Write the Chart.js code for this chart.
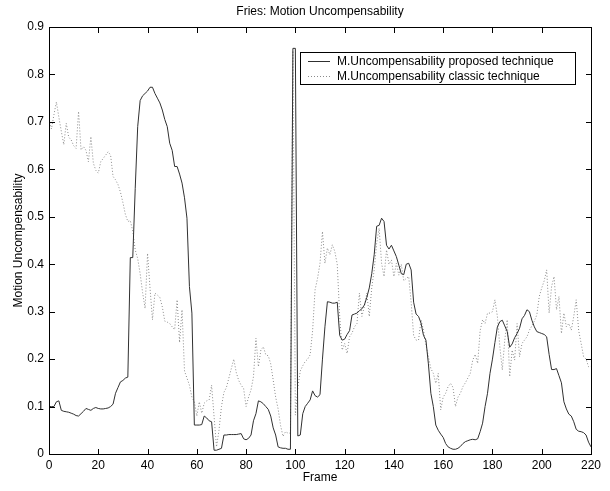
<!DOCTYPE html>
<html>
<head>
<meta charset="utf-8">
<title>Fries: Motion Uncompensability</title>
<script src="https://cdn.jsdelivr.net/npm/chart.js@4.4.1/dist/chart.umd.min.js"></script>
<style>
    html, body { margin: 0; padding: 0; background: #fff; }
    #wrap { width: 610px; height: 491px; position: relative; }
</style>
</head>
<body>
<div id="wrap"><canvas id="motionChart"></canvas></div>
<script>
// per-frame values, frames 0..220
var proposed = [
    0.100, 0.100, 0.100, 0.110, 0.112, 0.092, 0.090, 0.089, 0.088, 0.086,
    0.084, 0.081, 0.080, 0.085, 0.090, 0.096, 0.094, 0.092, 0.096, 0.098,
    0.096, 0.095, 0.095, 0.096, 0.097, 0.100, 0.105, 0.128, 0.140, 0.152,
    0.155, 0.160, 0.162, 0.414, 0.414, 0.560, 0.690, 0.745, 0.755, 0.760,
    0.765, 0.773, 0.773, 0.760, 0.750, 0.740, 0.725, 0.705, 0.690, 0.655,
    0.640, 0.606, 0.606, 0.590, 0.571, 0.540, 0.497, 0.353, 0.297, 0.061,
    0.061, 0.061, 0.062, 0.080, 0.076, 0.070, 0.068, 0.008, 0.008, 0.010,
    0.012, 0.040, 0.040, 0.041, 0.041, 0.041, 0.041, 0.042, 0.043, 0.032,
    0.030, 0.033, 0.040, 0.070, 0.085, 0.112, 0.110, 0.106, 0.100, 0.094,
    0.080, 0.055, 0.040, 0.015, 0.013, 0.012, 0.012, 0.010, 0.010, 0.855,
    0.855, 0.038, 0.040, 0.085, 0.100, 0.107, 0.114, 0.133, 0.123, 0.120,
    0.125, 0.200, 0.268, 0.321, 0.320, 0.318, 0.318, 0.320, 0.250, 0.240,
    0.242, 0.252, 0.260, 0.293, 0.295, 0.297, 0.302, 0.306, 0.314, 0.330,
    0.350, 0.380, 0.420, 0.480, 0.482, 0.497, 0.490, 0.440, 0.432, 0.440,
    0.428, 0.416, 0.398, 0.380, 0.378, 0.400, 0.402, 0.388, 0.320, 0.295,
    0.290, 0.276, 0.250, 0.240, 0.190, 0.128, 0.100, 0.061, 0.050, 0.042,
    0.035, 0.022, 0.015, 0.012, 0.010, 0.010, 0.012, 0.016, 0.022, 0.026,
    0.028, 0.030, 0.031, 0.030, 0.032, 0.047, 0.065, 0.100, 0.128, 0.170,
    0.200, 0.235, 0.268, 0.279, 0.282, 0.270, 0.258, 0.225, 0.232, 0.245,
    0.254, 0.265, 0.285, 0.292, 0.304, 0.300, 0.282, 0.268, 0.258, 0.256,
    0.254, 0.252, 0.247, 0.210, 0.178, 0.178, 0.180, 0.165, 0.150, 0.110,
    0.095, 0.084, 0.080, 0.068, 0.052, 0.048, 0.047, 0.045, 0.040, 0.025,
    0.015
];
var classic = [
    0.705, 0.685, 0.715, 0.742, 0.710, 0.680, 0.652, 0.697, 0.668, 0.662,
    0.650, 0.644, 0.722, 0.641, 0.648, 0.640, 0.616, 0.669, 0.613, 0.598,
    0.592, 0.616, 0.623, 0.630, 0.637, 0.630, 0.585, 0.578, 0.568, 0.552,
    0.530, 0.505, 0.490, 0.492, 0.470, 0.430, 0.412, 0.380, 0.340, 0.307,
    0.423, 0.350, 0.283, 0.339, 0.335, 0.330, 0.310, 0.280, 0.278, 0.275,
    0.268, 0.262, 0.325, 0.235, 0.304, 0.175, 0.160, 0.145, 0.120, 0.110,
    0.080, 0.110, 0.086, 0.107, 0.112, 0.114, 0.145, 0.079, 0.015, 0.050,
    0.100, 0.130, 0.140, 0.160, 0.180, 0.200, 0.172, 0.155, 0.145, 0.138,
    0.100, 0.120, 0.135, 0.163, 0.244, 0.184, 0.219, 0.226, 0.209, 0.207,
    0.190, 0.156, 0.120, 0.095, 0.060, 0.037, 0.047, 0.044, 0.044, 0.850,
    0.082, 0.140, 0.175, 0.186, 0.195, 0.200, 0.209, 0.260, 0.346, 0.370,
    0.402, 0.469, 0.402, 0.434, 0.420, 0.441, 0.427, 0.400, 0.290, 0.219,
    0.233, 0.212, 0.247, 0.255, 0.268, 0.275, 0.339, 0.290, 0.311, 0.339,
    0.290, 0.350, 0.388, 0.444, 0.476, 0.402, 0.374, 0.430, 0.400, 0.409,
    0.374, 0.402, 0.377, 0.400, 0.365, 0.370, 0.374, 0.320, 0.250, 0.240,
    0.240, 0.283, 0.261, 0.230, 0.205, 0.180, 0.170, 0.149, 0.170, 0.093,
    0.120, 0.128, 0.142, 0.149, 0.140, 0.100, 0.120, 0.128, 0.142, 0.150,
    0.160, 0.170, 0.198, 0.210, 0.191, 0.260, 0.283, 0.275, 0.297, 0.297,
    0.300, 0.325, 0.290, 0.226, 0.177, 0.240, 0.283, 0.163, 0.219, 0.198,
    0.275, 0.205, 0.233, 0.240, 0.247, 0.261, 0.270, 0.280, 0.293, 0.332,
    0.350, 0.365, 0.388, 0.297, 0.353, 0.374, 0.304, 0.332, 0.254, 0.297,
    0.268, 0.275, 0.261, 0.290, 0.325, 0.260, 0.233, 0.205, 0.200, 0.184,
    0.185
];
var seriesNames = ['M.Uncompensability proposed technique', 'M.Uncompensability classic technique'];
var chartTitle = 'Fries: Motion Uncompensability';
var xLabel = 'Frame';
var yLabel = 'Motion Uncompensability';
var xTicks = { min: 0, max: 220, step: 20 };
var yTicks = { min: 0, max: 0.9, step: 0.1 };

var FONT = '"Liberation Sans", Arial, Helvetica, sans-serif';

function toPoints(arr) {
    return arr.map(function (v, i) { return { x: i, y: v }; });
}

// box, inward ticks, titles and the legend, drawn the matlab way
var matlabAxes = {
    id: 'matlabAxes',
    afterDraw: function (chart) {
        var ctx = chart.ctx;
        var a = chart.chartArea;
        var xs = chart.scales.x, ys = chart.scales.y;
        var L = Math.round(a.left), R = Math.round(a.right);
        var T = Math.round(a.top), B = Math.round(a.bottom);
        var tl = 5;

        ctx.save();
        ctx.setLineDash([]);
        ctx.globalAlpha = 1;
        ctx.fillStyle = '#000';
        // frame, as 1px rects
        ctx.fillRect(L, T, R - L + 1, 1);
        ctx.fillRect(L, B, R - L + 1, 1);
        ctx.fillRect(L, T, 1, B - T + 1);
        ctx.fillRect(R, T, 1, B - T + 1);

        xs.ticks.forEach(function (t) {
            var px = Math.round(xs.getPixelForValue(t.value));
            ctx.fillRect(px, B - tl, 1, tl);
            ctx.fillRect(px, T + 1, 1, tl);
        });
        ys.ticks.forEach(function (t) {
            var py = Math.round(ys.getPixelForValue(t.value));
            ctx.fillRect(L + 1, py, tl, 1);
            ctx.fillRect(R - tl, py, tl, 1);
        });

        ctx.font = '12px ' + FONT;
        ctx.textAlign = 'center';
        ctx.textBaseline = 'middle';
        ctx.fillText(chartTitle, (a.left + a.right) / 2, 12);
        ctx.fillText(xLabel, (a.left + a.right) / 2, 478);
        ctx.save();
        ctx.translate(19, (a.top + a.bottom) / 2);
        ctx.rotate(-Math.PI / 2);
        ctx.fillText(yLabel, 0, 0);
        ctx.restore();

        // legend
        var bx = 300, by = 52, bw = 275, bh = 32;
        ctx.fillStyle = '#fff';
        ctx.fillRect(bx, by, bw, bh);
        ctx.fillStyle = '#000';
        ctx.fillRect(bx, by, bw + 1, 1);
        ctx.fillRect(bx, by + bh, bw + 1, 1);
        ctx.fillRect(bx, by, 1, bh + 1);
        ctx.fillRect(bx + bw, by, 1, bh + 1);
        ctx.textAlign = 'left';
        ctx.lineWidth = 1;
        chart.data.datasets.forEach(function (ds, i) {
            var ly = Math.round(by + 9 + i * 15) + 0.5;
            ctx.beginPath();
            ctx.strokeStyle = ds.borderColor;
            ctx.setLineDash(ds.borderDash || []);
            ctx.moveTo(bx + 8, ly);
            ctx.lineTo(bx + 30, ly);
            ctx.stroke();
            ctx.setLineDash([]);
            ctx.fillStyle = '#000';
            ctx.fillText(ds.label, bx + 37, ly);
        });
        ctx.restore();
    }
};

var ctx = document.getElementById('motionChart').getContext('2d');
var motionChart = new Chart(ctx, {
    type: 'line',
    data: {
        datasets: [{
            label: seriesNames[0],
            data: toPoints(proposed),
            borderColor: '#303030',
            borderWidth: 1,
            pointRadius: 0,
            tension: 0,
            fill: false
        }, {
            label: seriesNames[1],
            data: toPoints(classic),
            borderColor: '#8a8a8a',
            borderWidth: 1,
            borderDash: [1, 2],
            pointRadius: 0,
            tension: 0,
            fill: false
        }]
    },
    options: {
        responsive: true,
        maintainAspectRatio: false,
        animation: false,
        layout: { padding: { top: 27, right: 19, left: 0, bottom: 0 } },
        plugins: {
            legend: { display: false },
            title: { display: false },
            tooltip: { enabled: false }
        },
        scales: {
            x: {
                type: 'linear',
                min: xTicks.min,
                max: xTicks.max,
                grid: { display: false, drawTicks: false },
                border: { display: false },
                ticks: {
                    stepSize: xTicks.step,
                    padding: 4,
                    color: '#000',
                    maxRotation: 0,
                    font: { family: FONT, size: 12 }
                },
                afterFit: function (s) { s.height = 37; }
            },
            y: {
                min: yTicks.min,
                max: yTicks.max,
                grid: { display: false, drawTicks: false },
                border: { display: false },
                ticks: {
                    stepSize: yTicks.step,
                    padding: 5,
                    color: '#000',
                    font: { family: FONT, size: 12 }
                },
                afterFit: function (s) { s.width = 49; }
            }
        }
    },
    plugins: [matlabAxes]
});
</script>
</body>
</html>
